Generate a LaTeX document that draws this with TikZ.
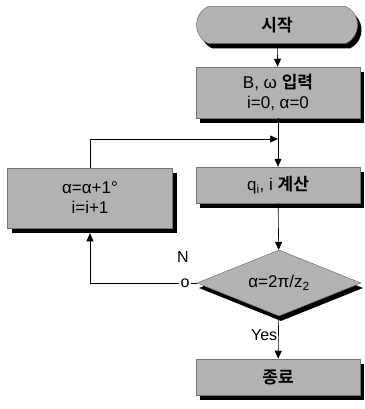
\documentclass[tikz,border=0pt]{standalone}
\usepackage{fontspec}
\setmainfont{Liberation Sans}
\newfontfamily\kr{Noto Sans CJK KR Bold}
\usetikzlibrary{shapes.geometric,shapes.misc,arrows.meta}
\tikzset{
  txt/.style={font=\fontsize{17}{20}\selectfont},
  box/.style={rectangle, fill=black!30, draw=black!55, line width=0.5pt,
    align=center, inner sep=0pt, txt},
  term/.style={rounded rectangle, rounded rectangle arc length=130, fill=black!30, draw=black!55, line width=0.5pt,
    inner sep=0pt, txt},
  dia/.style={diamond, aspect=2.5, fill=black!30, draw=black!55, line width=0.5pt,
    inner sep=0pt, txt},
  shbox/.style={rectangle, fill=black, draw=none, inner sep=0pt},
  shterm/.style={rounded rectangle, rounded rectangle arc length=130, fill=black, draw=none, inner sep=0pt},
  shdia/.style={diamond, aspect=2.5, fill=black, draw=none, inner sep=0pt},
  arr/.style={line width=0.6pt, -{Triangle[width=7pt,length=8pt]}},
  ln/.style={line width=0.6pt},
  lab/.style={font=\fontsize{16}{19}\selectfont, inner sep=1pt}
}
\begin{document}
\begin{tikzpicture}[x=1pt,y=-1pt]
\useasboundingbox (0,0) rectangle (364,409);
% shadows
\node[shterm, minimum width=161pt, minimum height=37pt] (s1) at (281,30) {};
\node[shbox, minimum width=164pt, minimum height=51pt] (s2) at (282,97.5) {};
\node[shbox, minimum width=164pt, minimum height=36pt] (s3) at (282,190) {};
\node[shbox, minimum width=165pt, minimum height=60pt] (s4) at (94,203) {};
\node[shdia, minimum width=164pt, minimum height=66pt] (s5) at (281,288) {};
\node[shbox, minimum width=164pt, minimum height=36pt] (s6) at (282,382) {};
% nodes
\node[term, minimum width=161pt, minimum height=37pt] (start) at (277,25) {\kr 시작};
\node[box, minimum width=164pt, minimum height=51pt] (inp) at (278,92.5) {B, ω {\kr 입력}\\i=0, α=0};
\node[box, minimum width=164pt, minimum height=36pt] (calc) at (278,185) {q\textsubscript{i}, i {\kr 계산}};
\node[box, minimum width=165pt, minimum height=60pt] (upd) at (90,198) {α=α+1°\\i=i+1};
\node[dia, minimum width=164pt, minimum height=66pt] (dec) at (279,283) {α=2π/z\textsubscript{2}};
\node[box, minimum width=164pt, minimum height=36pt] (end) at (278,377) {\kr 종료};
\node[lab] (no) at (185,283) {o};
\node[lab] (nn) at (183,257) {N};
\coordinate (j) at (278,139);
\draw[arr] (start) -- (inp);
\draw[arr] (inp) -- (calc);
\draw[arr] (upd.north) |- (j);
\draw[arr] (calc) -- (dec);
\draw[arr] (dec) -- node[lab, left, pos=0.45] {Yes} (end);
\draw[ln] (dec.west) -- (no.east);
\draw[arr] (no.west) -| ([yshift=-5pt]upd.south);
\end{tikzpicture}
\end{document}
